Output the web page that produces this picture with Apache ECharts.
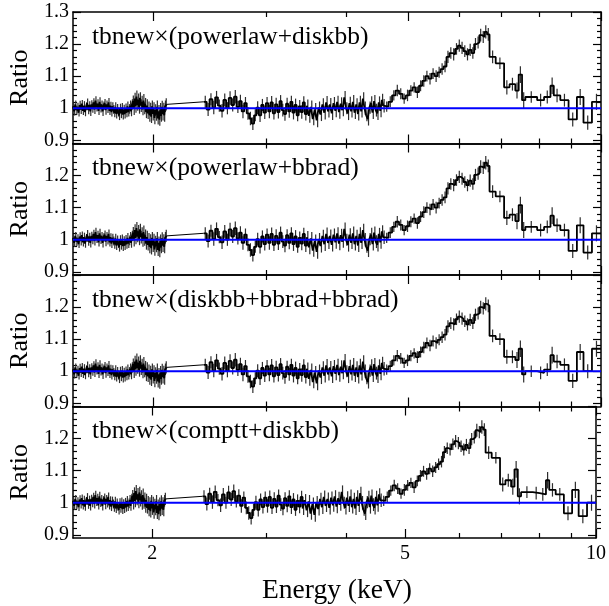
<!DOCTYPE html>
<html>
<head>
<meta charset="utf-8">
<script src="https://cdn.jsdelivr.net/npm/echarts@6.0.0/dist/echarts.min.js"></script>
<style>
html,body{margin:0;padding:0;background:#fff}
#chart{width:609px;height:606px}
</style>
</head>
<body>
<div id="chart"></div>
<script>
// === Ejes ===
const E_MIN = 1.5, E_MAX = 10;
const R_MIN = 0.89, R_MAX = 1.3;
const X_MAJOR = [2, 5, 10];
const X_MINOR = [3, 4, 6, 7, 8, 9];
const Y_MAJOR = [0.9, 1, 1.1, 1.2, 1.3];
const Y_LABELS_TOP = [0.9, 1, 1.1, 1.2, 1.3];
const Y_LABELS = [0.9, 1, 1.1, 1.2];
const Y_MINOR = [0.92,0.94,0.96,0.98,1.02,1.04,1.06,1.08,1.12,1.14,1.16,1.18,1.22,1.24,1.26,1.28];

const PANEL_NAMES = [
  'tbnew×(powerlaw+diskbb)',
  'tbnew×(powerlaw+bbrad)',
  'tbnew×(diskbb+bbrad+bbrad)',
  'tbnew×(comptt+diskbb)'
];

// modelo (ratio = 1)
const MODEL_E = [1.5, 10];
const MODEL_R = [1, 1];

// === Baja energía (igual en los 4 paneles) ===
const LO_EDGES = [1.500,1.506,1.512,1.518,1.524,1.530,1.536,1.542,1.548,1.554,
  1.560,1.566,1.572,1.578,1.584,1.590,1.596,1.602,1.608,1.614,
  1.620,1.626,1.632,1.638,1.644,1.650,1.656,1.662,1.668,1.674,
  1.680,1.686,1.692,1.698,1.704,1.710,1.716,1.722,1.728,1.734,
  1.740,1.746,1.752,1.758,1.764,1.770,1.776,1.782,1.788,1.794,
  1.800,1.806,1.812,1.818,1.824,1.830,1.836,1.842,1.848,1.854,
  1.860,1.866,1.872,1.878,1.884,1.890,1.896,1.902,1.908,1.914,
  1.920,1.926,1.932,1.938,1.944,1.950,1.956,1.962,1.968,1.974,
  1.980,1.986,1.992,1.998,2.004,2.010,2.016,2.022,2.028,2.034,
  2.040,2.046,2.052,2.058,2.064,2.070,2.076,2.082,2.088,2.094,
  2.100];
const LO_VALS = [1.006,0.990,1.012,0.994,1.004,0.986,1.010,0.996,1.014,0.992,
  1.008,0.988,1.006,1.016,0.994,1.010,0.990,1.012,0.998,1.018,
  0.996,1.024,1.002,1.014,0.992,1.020,1.000,1.012,0.990,1.008,
  1.016,0.994,1.012,0.998,1.018,0.992,1.008,0.988,1.006,0.996,
  0.986,1.004,0.982,0.998,0.988,0.978,1.000,0.984,1.002,0.980,
  0.996,0.982,1.000,0.986,1.006,0.988,0.998,1.008,0.990,1.012,
  1.022,0.998,1.030,1.006,1.036,1.010,1.026,1.002,1.032,1.008,
  1.020,0.996,1.024,1.000,1.014,0.988,1.008,0.984,1.002,0.978,
  0.998,0.974,1.006,0.982,1.000,0.970,0.994,0.980,1.004,0.968,
  0.990,0.964,0.996,0.976,1.004,0.982,0.998,0.978,1.006,1.012];
const LO_ERRS = [0.012,0.013,0.012,0.014,0.013,0.012,0.013,0.014,0.012,0.013,
  0.014,0.013,0.012,0.014,0.013,0.012,0.014,0.013,0.012,0.013,
  0.014,0.013,0.012,0.014,0.013,0.014,0.013,0.012,0.014,0.013,
  0.013,0.014,0.012,0.013,0.014,0.013,0.012,0.014,0.013,0.014,
  0.014,0.015,0.014,0.015,0.014,0.015,0.014,0.015,0.014,0.015,
  0.015,0.014,0.015,0.014,0.015,0.014,0.015,0.016,0.015,0.016,
  0.018,0.019,0.018,0.020,0.019,0.018,0.020,0.019,0.018,0.020,
  0.019,0.018,0.020,0.019,0.018,0.019,0.020,0.018,0.019,0.020,
  0.019,0.020,0.018,0.020,0.019,0.020,0.018,0.019,0.020,0.019,
  0.020,0.019,0.020,0.018,0.019,0.020,0.019,0.020,0.018,0.019];

// === Energía media ===
const MID_EDGES = [2.400,2.425,2.450,2.475,2.500,2.525,2.550,2.575,2.600,2.625,
  2.650,2.675,2.700,2.725,2.750,2.775,2.800,2.825,2.850,2.875,
  2.900,2.925,2.950,2.975,3.000,3.025,3.050,3.075,3.100,3.125,
  3.150,3.175,3.200,3.225,3.250,3.275,3.300,3.325,3.350,3.375,
  3.400,3.425,3.450,3.475,3.500,3.525,3.550,3.575,3.600,3.625,
  3.650,3.675,3.700,3.725,3.750,3.775,3.800,3.825,3.850,3.875,
  3.900,3.925,3.950,3.975,4.000,4.025,4.050,4.075,4.100,4.125,
  4.150,4.175,4.200,4.225,4.250,4.275,4.300,4.325,4.350,4.375,
  4.400,4.425,4.450,4.475,4.500,4.525,4.550,4.575,4.600];
const MID_VALS = [1.020,0.996,1.028,1.002,1.034,1.008,0.992,1.026,1.000,1.032,
  1.010,1.036,1.004,1.022,0.990,1.016,0.984,0.968,0.952,0.978,
  1.002,0.978,1.010,0.986,1.016,0.990,1.018,0.984,1.012,0.988,
  1.022,0.994,0.982,1.014,0.990,1.020,0.986,1.010,0.978,1.006,
  0.988,1.018,0.982,1.008,0.976,1.004,0.966,0.996,0.962,1.002,
  0.980,1.012,0.986,1.018,0.990,1.012,0.984,1.016,0.992,1.020,
  0.988,1.014,0.994,1.034,1.000,0.984,1.016,0.990,1.020,0.986,
  1.012,0.982,1.018,0.990,1.030,1.000,0.978,0.966,1.002,1.016,
  0.986,1.022,0.994,0.984,1.018,0.992,1.026,1.008];
const MID_ERRS = [0.019,0.020,0.019,0.021,0.020,0.019,0.021,0.020,0.019,0.021,
  0.020,0.021,0.019,0.020,0.021,0.019,0.020,0.021,0.020,0.019,
  0.020,0.021,0.019,0.020,0.019,0.021,0.020,0.019,0.021,0.020,
  0.019,0.020,0.021,0.019,0.020,0.019,0.021,0.020,0.019,0.020,
  0.021,0.019,0.020,0.019,0.021,0.020,0.019,0.020,0.021,0.019,
  0.020,0.019,0.021,0.020,0.019,0.020,0.021,0.019,0.020,0.019,
  0.021,0.020,0.019,0.020,0.019,0.021,0.020,0.019,0.021,0.020,
  0.019,0.020,0.021,0.019,0.020,0.021,0.019,0.020,0.019,0.021,
  0.020,0.019,0.020,0.021,0.019,0.020,0.019,0.021];

// === Alta energía (línea de Fe), distinta por modelo ===
const HI_EDGES = [4.60,4.66,4.72,4.78,4.84,4.90,4.96,5.02,5.08,5.14,
  5.20,5.26,5.32,5.38,5.44,5.50,5.56,5.62,5.68,5.74,
  5.80,5.86,5.92,5.98,6.04,6.10,6.16,6.22,6.28,6.34,
  6.40,6.46,6.52,6.58,6.64,6.70,
  6.85,7.06,7.20,7.35,7.44,7.53,7.62,7.95,8.15,8.34,8.44,8.64,8.90,9.17,9.39,9.68,10.0];
const HI_ERRS = [0.016,0.017,0.016,0.018,0.017,0.016,0.018,0.017,0.016,0.018,
  0.017,0.018,0.017,0.018,0.017,0.018,0.017,0.018,0.018,0.019,
  0.018,0.019,0.018,0.019,0.019,0.018,0.019,0.019,0.018,0.019,
  0.019,0.020,0.019,0.021,0.020,
  0.020,0.018,0.022,0.020,0.025,0.026,0.025,0.018,0.020,0.020,0.026,0.021,0.020,0.022,0.025,0.022,0.025];
const HI_PL_DISKBB = [1.005,1.020,1.040,1.055,1.045,1.030,1.040,1.055,1.065,1.050,
  1.070,1.085,1.100,1.092,1.108,1.100,1.112,1.122,1.130,1.160,
  1.172,1.168,1.185,1.195,1.188,1.178,1.168,1.182,1.172,1.200,
  1.205,1.228,1.222,1.238,1.230,
  1.160,1.140,1.065,1.075,1.055,1.105,1.025,1.035,1.025,1.035,1.070,1.040,1.025,0.965,1.035,0.955,1.020];
const HI_PL_BBRAD = [1.006,1.022,1.040,1.056,1.046,1.030,1.042,1.056,1.066,1.052,
  1.072,1.086,1.100,1.094,1.110,1.100,1.114,1.124,1.132,1.160,
  1.174,1.170,1.186,1.196,1.190,1.180,1.170,1.184,1.174,1.202,
  1.206,1.228,1.224,1.240,1.230,
  1.150,1.135,1.068,1.078,1.058,1.108,1.030,1.040,1.030,1.040,1.075,1.045,1.030,0.965,1.045,0.960,1.020];
const HI_DISKBB_BB2 = [1.005,1.016,1.034,1.048,1.040,1.026,1.034,1.048,1.056,1.044,
  1.060,1.074,1.088,1.080,1.094,1.088,1.098,1.106,1.114,1.140,
  1.150,1.146,1.162,1.170,1.164,1.156,1.146,1.160,1.150,1.176,
  1.180,1.200,1.196,1.210,1.204,
  1.110,1.100,1.045,1.045,1.035,1.070,0.990,1.000,0.995,1.005,1.050,1.030,1.020,0.970,1.060,1.000,1.070];
const HI_COMPTT_DISKBB = [1.006,1.018,1.038,1.054,1.044,1.028,1.040,1.054,1.062,1.048,
  1.068,1.084,1.098,1.090,1.106,1.098,1.110,1.120,1.128,1.158,
  1.170,1.166,1.182,1.192,1.186,1.176,1.166,1.180,1.170,1.198,
  1.204,1.226,1.220,1.236,1.228,
  1.156,1.140,1.057,1.070,1.050,1.104,1.020,1.033,1.030,1.026,1.070,1.040,1.026,0.967,1.040,0.958,1.000];
const PANEL_HI = [HI_PL_DISKBB, HI_PL_BBRAD, HI_DISKBB_BB2, HI_COMPTT_DISKBB];

// === Estilo ===
const FONT = '"Liberation Serif", "Times New Roman", serif';
const BLACK = '#000';
const LEFT = 73, RIGHT = 8, TOP0 = 12, PANEL_H = 131.5;

function stepPoints(edges, vals){
  const pts = vals.map((v,i)=>[edges[i], v]);
  pts.push([edges[edges.length-1], vals[vals.length-1]]);
  return pts;
}
function errPoints(edges, vals, errs){
  return vals.map((v,i)=>[Math.sqrt(edges[i]*edges[i+1]), v-errs[i], v+errs[i]]);
}
function renderErr(params, api){
  const a = api.coord([api.value(0), api.value(1)]);
  const b = api.coord([api.value(0), api.value(2)]);
  return { type:'line', shape:{ x1:a[0], y1:a[1], x2:b[0], y2:b[1] },
    style:{ stroke:'#2e2e2e', lineWidth:1.2 } };
}

const grids = [], xAxis = [], yAxis = [], series = [], graphic = [];
const frame = { show:true, lineStyle:{ color:BLACK, width:1.5 } };

PANEL_NAMES.forEach((name, p)=>{
  const top = TOP0 + p*PANEL_H;
  grids.push({ left:LEFT, right:RIGHT, top, height:PANEL_H },
             { left:LEFT, right:RIGHT, top, height:PANEL_H });
  const gA = 2*p, gB = 2*p+1;
  const xb = { type:'log', logBase:10, min:E_MIN, max:E_MAX, splitLine:{show:false} };
  const yb = { type:'value', min:R_MIN, max:R_MAX, splitLine:{show:false} };
  const ticks = (len, vals)=>({ show:true, inside:true, length:len, customValues:vals,
    lineStyle:{ color:BLACK, width:1.2 } });

  xAxis.push(
    { ...xb, gridIndex:gA, position:'bottom', axisLine:frame, axisTick:ticks(9, X_MAJOR),
      axisLabel:{ show:p===3, customValues:X_MAJOR, color:BLACK, fontFamily:FONT, fontSize:20, margin:6 } },
    { ...xb, gridIndex:gA, position:'top', axisLine:frame, axisTick:ticks(9, X_MAJOR), axisLabel:{show:false} },
    { ...xb, gridIndex:gB, position:'bottom', axisLine:{show:false}, axisTick:ticks(5, X_MINOR), axisLabel:{show:false} },
    { ...xb, gridIndex:gB, position:'top', axisLine:{show:false}, axisTick:ticks(5, X_MINOR), axisLabel:{show:false} }
  );
  yAxis.push(
    { ...yb, gridIndex:gA, position:'left', axisLine:frame, axisTick:ticks(8, Y_MAJOR),
      axisLabel:{ customValues: p===0 ? Y_LABELS_TOP : Y_LABELS, color:BLACK, fontFamily:FONT, fontSize:20, margin:4 } },
    { ...yb, gridIndex:gA, position:'right', axisLine:frame, axisTick:ticks(8, Y_MAJOR), axisLabel:{show:false} },
    { ...yb, gridIndex:gB, position:'left', axisLine:{show:false}, axisTick:ticks(4, Y_MINOR), axisLabel:{show:false} },
    { ...yb, gridIndex:gB, position:'right', axisLine:{show:false}, axisTick:ticks(4, Y_MINOR), axisLabel:{show:false} }
  );

  const xi = 4*p, yi = 4*p;
  const upEdges = MID_EDGES.slice(0, -1).concat(HI_EDGES);
  const upVals = MID_VALS.concat(PANEL_HI[p]);
  const upErrs = MID_ERRS.concat(HI_ERRS);

  series.push(
    { type:'custom', xAxisIndex:xi, yAxisIndex:yi, renderItem:renderErr, z:2,
      data: errPoints(LO_EDGES, LO_VALS, LO_ERRS).concat(errPoints(upEdges, upVals, upErrs)) },
    { type:'line', xAxisIndex:xi, yAxisIndex:yi, step:'end', symbol:'none', z:3,
      lineStyle:{ color:BLACK, width:1.8 }, data: stepPoints(LO_EDGES, LO_VALS) },
    { type:'line', xAxisIndex:xi, yAxisIndex:yi, step:'end', symbol:'none', z:3,
      lineStyle:{ color:BLACK, width:1.8 }, data: stepPoints(upEdges, upVals) },
    { type:'line', xAxisIndex:xi, yAxisIndex:yi, symbol:'none', z:3,
      lineStyle:{ color:BLACK, width:1 },
      data: [[LO_EDGES[LO_EDGES.length-1], LO_VALS[LO_VALS.length-1]], [MID_EDGES[0], MID_VALS[0]]] },
    { type:'line', xAxisIndex:xi, yAxisIndex:yi, symbol:'none', z:5,
      lineStyle:{ color:'#0000ff', width:2 }, data: MODEL_E.map((e,i)=>[e, MODEL_R[i]]) }
  );

  graphic.push(
    { type:'text', x:92, y: top + 25, z:10,
      style:{ text:name, font:`25.5px ${FONT}`, fill:BLACK, align:'left', verticalAlign:'middle' } },
    { type:'text', x:20, y: top + PANEL_H/2, rotation: Math.PI/2, z:10,
      style:{ text:'Ratio', font:`26px ${FONT}`, fill:BLACK, align:'center', verticalAlign:'middle' } }
  );
});

graphic.push({ type:'text', x: LEFT + (609-LEFT-RIGHT)/2, y: 591, z:10,
  style:{ text:'Energy (keV)', font:`27.5px ${FONT}`, fill:BLACK, align:'center', verticalAlign:'middle' } });

const chart = echarts.init(document.getElementById('chart'));
chart.setOption({
  animation:false,
  backgroundColor:'#fff',
  grid: grids, xAxis, yAxis, series, graphic
});
</script>
</body>
</html>
